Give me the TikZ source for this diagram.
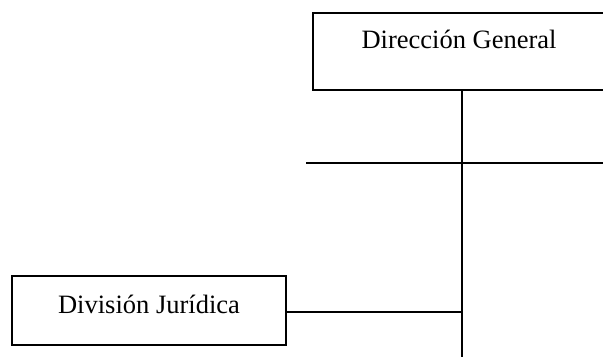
\documentclass[tikz,border=0pt]{standalone}
\usepackage{fontspec}
\setmainfont{Liberation Serif}
\usetikzlibrary{positioning}
\tikzstyle{unit} = [draw, rectangle, line width=1pt, inner sep=0, font=\fontsize{13.25}{16}\selectfont]
\tikzstyle{wire} = [line width=1pt]

\begin{document}
\begin{tikzpicture}[x=0.5pt, y=-0.5pt]
    \useasboundingbox (0,0) rectangle (603,357);

    \node[unit, anchor=north west, minimum width=146pt, text height=18pt, text depth=20.5pt] (dg) at (312,12) {Dirección General};
    \node[unit, anchor=north west, minimum width=137pt, text height=18.5pt, text depth=16pt] (dj) at (11,275) {División Jurídica};

    \coordinate (trunktop) at (462,89);
    \coordinate (trunkend) at (462,360);
    \coordinate (barL) at (306,163);
    \coordinate (barR) at (606,163);

    \draw[wire] (dg.south -| trunktop) -- (trunkend);
    \draw[wire] (barL) -- (barR);
    \draw[wire] (dj.east |- 0,312) -- (trunktop |- 0,312);
\end{tikzpicture}
\end{document}
